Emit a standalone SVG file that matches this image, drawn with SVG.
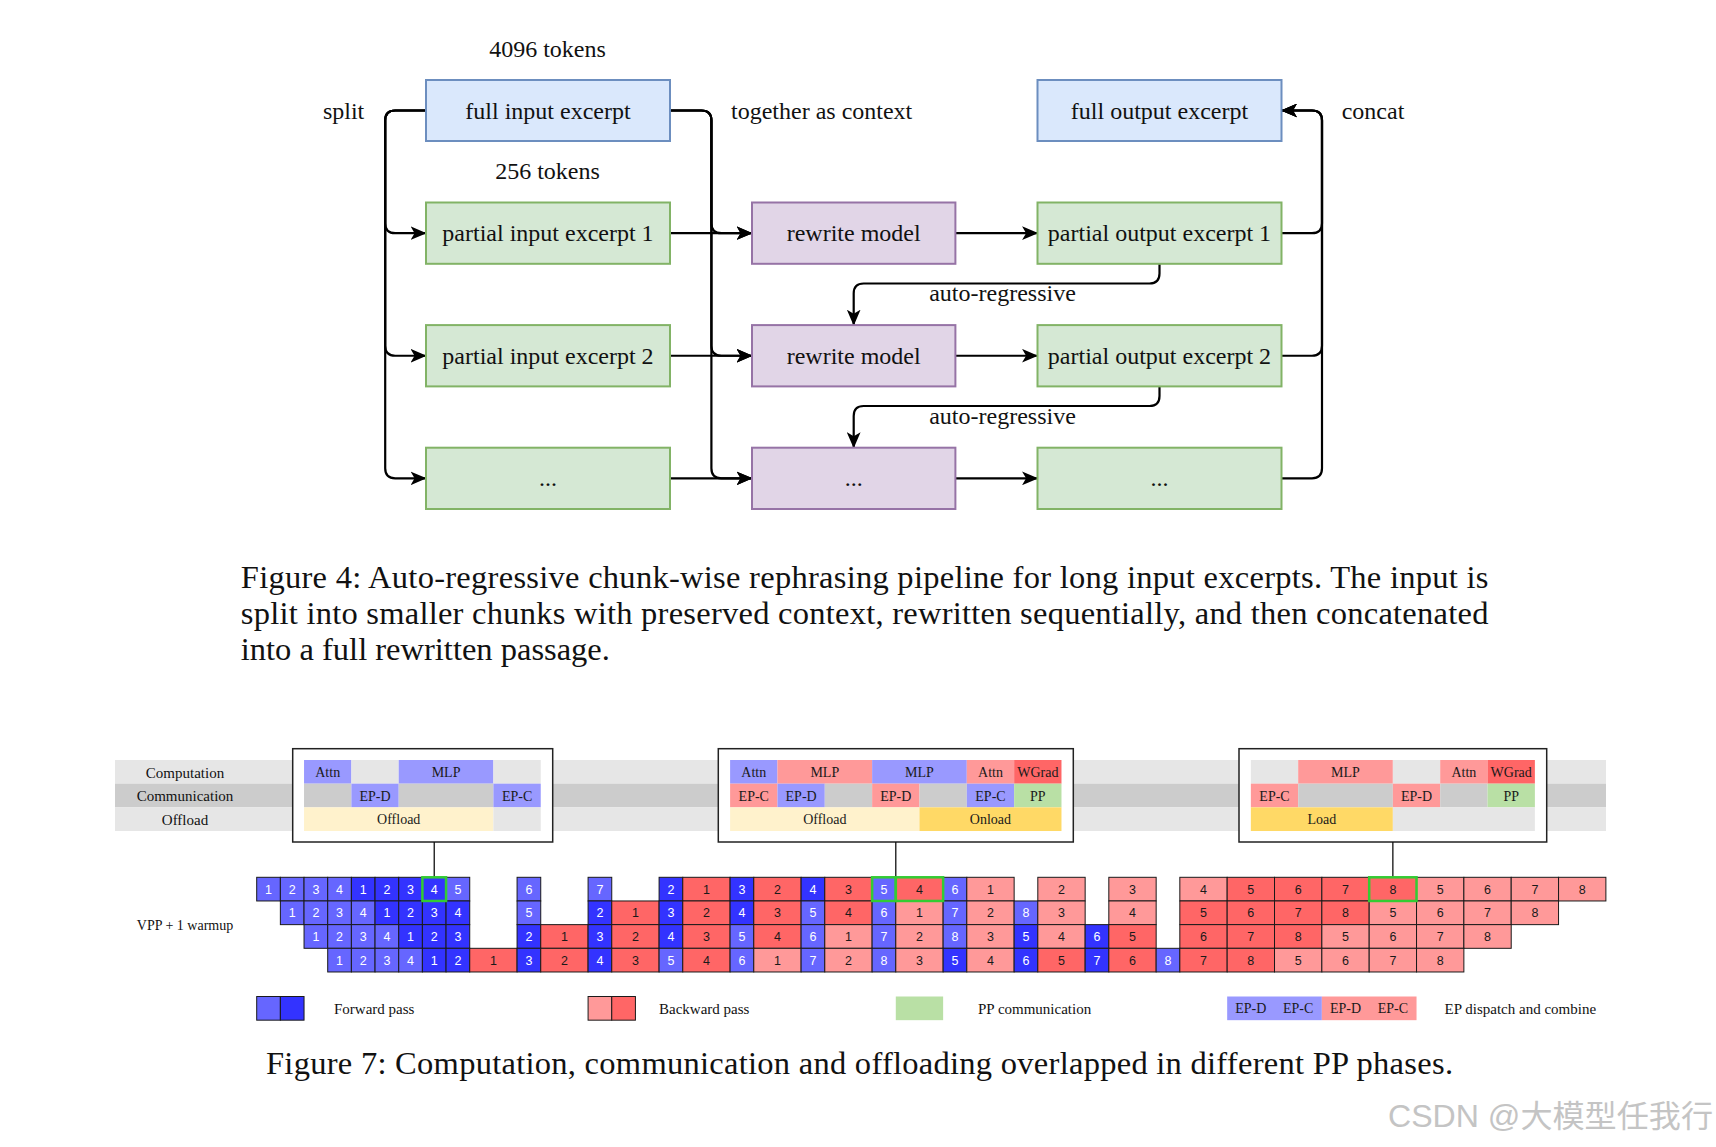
<svg xmlns="http://www.w3.org/2000/svg" width="1716" height="1147" viewBox="0 0 1716 1147">
<style>
.t{font-family:"Liberation Serif","Times New Roman",serif;fill:#111;}
.big{font-size:24px;text-anchor:middle;}
.lbl{font-size:24px;}
.cap{font-size:32.5px;}
.bx{stroke-width:2;}
.blue{fill:#dae8fc;stroke:#6c8ebf;}
.green{fill:#d5e8d4;stroke:#82b366;}
.purple{fill:#e1d5e7;stroke:#9673a6;}
.con{fill:none;stroke:#000;stroke-width:2.2;marker-end:url(#arr);}
.hd{font-family:"Liberation Serif","Times New Roman",serif;font-size:14px;fill:#1a1a1a;text-anchor:middle;}
.rl{font-family:"Liberation Serif","Times New Roman",serif;font-size:15px;fill:#111;text-anchor:middle;}
.lg{font-family:"Liberation Serif","Times New Roman",serif;font-size:15px;fill:#111;}
.L{fill:#6666ff;} .D{fill:#3333ff;} .P{fill:#ff9999;} .R{fill:#ff6666;}
.cell rect{stroke:#1a1a1a;stroke-width:1;height:23.67px;}
.cell text{font-family:"Liberation Sans",Arial,sans-serif;font-size:12.5px;text-anchor:middle;}
.w{fill:#fff;} .k{fill:#1a1a1a;}
.hb{fill:#9999ff;} .hr{fill:#ff9999;} .hw{fill:#ff6666;} .hp{fill:#b9e0a5;} .ho{fill:#fff2cc;} .hg{fill:#ffd966;} .l1{fill:#e6e6e6;} .l2{fill:#cccccc;}
.gb{fill:none;stroke:#33cc33;stroke-width:2.5;}
.box7{fill:#fff;stroke:#222;stroke-width:1.5;}
.vl{stroke:#111;stroke-width:1.3;}
</style>
<defs>
<marker id="arr" viewBox="0 0 14 12" refX="13.5" refY="6" markerUnits="userSpaceOnUse" markerWidth="16" markerHeight="14" orient="auto">
<path d="M0,0 L14,6 L0,12 L3.5,6 Z" fill="#000"/>
</marker>
</defs>
<rect width="1716" height="1147" fill="#fff"/>

<!-- ===== Figure 4 ===== -->
<g id="connectors">
<path class="con" d="M426,110.5 H395.2 Q385.2,110.5 385.2,120.5 V223.15 Q385.2,233.15 395.2,233.15 H426"/>
<path class="con" d="M426,110.5 H395.2 Q385.2,110.5 385.2,120.5 V345.75 Q385.2,355.75 395.2,355.75 H426"/>
<path class="con" d="M426,110.5 H395.2 Q385.2,110.5 385.2,120.5 V468.35 Q385.2,478.35 395.2,478.35 H426"/>
<path class="con" d="M669.8,110.5 H701.4 Q711.4,110.5 711.4,120.5 V223.15 Q711.4,233.15 721.4,233.15 H752"/>
<path class="con" d="M669.8,110.5 H701.4 Q711.4,110.5 711.4,120.5 V345.75 Q711.4,355.75 721.4,355.75 H752"/>
<path class="con" d="M669.8,110.5 H701.4 Q711.4,110.5 711.4,120.5 V468.35 Q711.4,478.35 721.4,478.35 H752"/>
<path class="con" d="M669.8,233.15 H752"/>
<path class="con" d="M669.8,355.75 H752"/>
<path class="con" d="M669.8,478.35 H752"/>
<path class="con" d="M955.4,233.15 H1037.5"/>
<path class="con" d="M955.4,355.75 H1037.5"/>
<path class="con" d="M955.4,478.35 H1037.5"/>
<path class="con" d="M1281.5,233.15 H1312 Q1322,233.15 1322,223.15 V120.5 Q1322,110.5 1312,110.5 H1281.5"/>
<path class="con" d="M1281.5,355.75 H1312 Q1322,355.75 1322,345.75 V120.5 Q1322,110.5 1312,110.5 H1281.5"/>
<path class="con" d="M1281.5,478.35 H1312 Q1322,478.35 1322,468.35 V120.5 Q1322,110.5 1312,110.5 H1281.5"/>
<path class="con" d="M1159.5,263.8 V273.5 Q1159.5,283.5 1149.5,283.5 H863.7 Q853.7,283.5 853.7,293.5 V325.1"/>
<path class="con" d="M1159.5,386.4 V396 Q1159.5,406 1149.5,406 H863.7 Q853.7,406 853.7,416 V447.7"/>
</g>

<g id="full-input"><rect class="bx blue" x="426" y="80" width="244" height="61"/><text class="t big" x="548" y="118.5">full input excerpt</text></g>
<g id="full-output"><rect class="bx blue" x="1037.5" y="80" width="244" height="61"/><text class="t big" x="1159.5" y="118.5">full output excerpt</text></g>
<g id="pin1"><rect class="bx green" x="426" y="202.5" width="244" height="61.3"/><text class="t big" x="548" y="241">partial input excerpt 1</text></g>
<g id="pin2"><rect class="bx green" x="426" y="325.1" width="244" height="61.3"/><text class="t big" x="548" y="363.6">partial input excerpt 2</text></g>
<g id="pin3"><rect class="bx green" x="426" y="447.7" width="244" height="61.3"/><text class="t big" x="548" y="486">...</text></g>
<g id="rw1"><rect class="bx purple" x="752" y="202.5" width="203.4" height="61.3"/><text class="t big" x="853.7" y="241">rewrite model</text></g>
<g id="rw2"><rect class="bx purple" x="752" y="325.1" width="203.4" height="61.3"/><text class="t big" x="853.7" y="363.6">rewrite model</text></g>
<g id="rw3"><rect class="bx purple" x="752" y="447.7" width="203.4" height="61.3"/><text class="t big" x="853.7" y="486">...</text></g>
<g id="pout1"><rect class="bx green" x="1037.5" y="202.5" width="244" height="61.3"/><text class="t big" x="1159.5" y="241">partial output excerpt 1</text></g>
<g id="pout2"><rect class="bx green" x="1037.5" y="325.1" width="244" height="61.3"/><text class="t big" x="1159.5" y="363.6">partial output excerpt 2</text></g>
<g id="pout3"><rect class="bx green" x="1037.5" y="447.7" width="244" height="61.3"/><text class="t big" x="1159.5" y="486">...</text></g>

<g id="labels4">
<text class="t big" x="547.5" y="57">4096 tokens</text>
<text class="t big" x="547.5" y="178.5">256 tokens</text>
<text class="t big" x="343.6" y="118.5">split</text>
<text class="t lbl" x="731" y="118.5">together as context</text>
<text class="t lbl" x="1341.7" y="118.5">concat</text>
<text class="t big" x="1002.5" y="301">auto-regressive</text>
<text class="t big" x="1002.5" y="423.5">auto-regressive</text>
</g>

<g id="caption4">
<text class="t cap" x="240.8" y="588" textLength="1247.6" lengthAdjust="spacing">Figure 4:  Auto-regressive chunk-wise rephrasing pipeline for long input excerpts. The input is</text>
<text class="t cap" x="240.8" y="624" textLength="1247.6" lengthAdjust="spacing">split into smaller chunks with preserved context, rewritten sequentially, and then concatenated</text>
<text class="t cap" x="240.8" y="660">into a full rewritten passage.</text>
</g>

<!-- ===== Figure 7 ===== -->
<g id="bands">
<rect class="l1" x="115" y="760" width="1491" height="23.67"/>
<rect class="l2" x="115" y="783.67" width="1491" height="23.67"/>
<rect class="l1" x="115" y="807.34" width="1491" height="23.67"/>
<text class="rl" x="185" y="777.5">Computation</text>
<text class="rl" x="185" y="801">Communication</text>
<text class="rl" x="185" y="824.5">Offload</text>
</g>

<g id="phase1">
<rect class="box7" x="292.7" y="748.7" width="260" height="93.3"/>
<rect class="hb" x="304.04" y="760" width="47.34" height="23.67"/>
<rect class="l1" x="351.38" y="760" width="47.34" height="23.67"/>
<rect class="hb" x="398.72" y="760" width="94.68" height="23.67"/>
<rect class="l1" x="493.4" y="760" width="47.34" height="23.67"/>
<rect class="l2" x="304.04" y="783.67" width="47.34" height="23.67"/>
<rect class="hb" x="351.38" y="783.67" width="47.34" height="23.67"/>
<rect class="l2" x="398.72" y="783.67" width="94.68" height="23.67"/>
<rect class="hb" x="493.4" y="783.67" width="47.34" height="23.67"/>
<rect class="ho" x="304.04" y="807.34" width="189.36" height="23.67"/>
<rect class="l1" x="493.4" y="807.34" width="47.34" height="23.67"/>
<text class="hd" x="327.71" y="776.8">Attn</text>
<text class="hd" x="446.06" y="776.8">MLP</text>
<text class="hd" x="375.05" y="800.5">EP-D</text>
<text class="hd" x="517.07" y="800.5">EP-C</text>
<text class="hd" x="398.72" y="824.2">Offload</text>
</g>

<g id="phase2">
<rect class="box7" x="718.3" y="748.7" width="355" height="93.3"/>
<rect class="hb" x="730.1" y="760" width="47.34" height="23.67"/>
<rect class="hr" x="777.44" y="760" width="94.68" height="23.67"/>
<rect class="hb" x="872.12" y="760" width="94.68" height="23.67"/>
<rect class="hr" x="966.8" y="760" width="47.34" height="23.67"/>
<rect class="hw" x="1014.14" y="760" width="47.34" height="23.67"/>
<rect class="hr" x="730.1" y="783.67" width="47.34" height="23.67"/>
<rect class="hb" x="777.44" y="783.67" width="47.34" height="23.67"/>
<rect class="l2" x="824.78" y="783.67" width="47.34" height="23.67"/>
<rect class="hr" x="872.12" y="783.67" width="47.34" height="23.67"/>
<rect class="l2" x="919.46" y="783.67" width="47.34" height="23.67"/>
<rect class="hb" x="966.8" y="783.67" width="47.34" height="23.67"/>
<rect class="hp" x="1014.14" y="783.67" width="47.34" height="23.67"/>
<rect class="ho" x="730.1" y="807.34" width="189.36" height="23.67"/>
<rect class="hg" x="919.46" y="807.34" width="142.02" height="23.67"/>
<text class="hd" x="753.77" y="776.8">Attn</text>
<text class="hd" x="824.78" y="776.8">MLP</text>
<text class="hd" x="919.46" y="776.8">MLP</text>
<text class="hd" x="990.47" y="776.8">Attn</text>
<text class="hd" x="1037.81" y="776.8">WGrad</text>
<text class="hd" x="753.77" y="800.5">EP-C</text>
<text class="hd" x="801.11" y="800.5">EP-D</text>
<text class="hd" x="895.79" y="800.5">EP-D</text>
<text class="hd" x="990.47" y="800.5">EP-C</text>
<text class="hd" x="1037.81" y="800.5">PP</text>
<text class="hd" x="824.78" y="824.2">Offload</text>
<text class="hd" x="990.47" y="824.2">Onload</text>
</g>

<g id="phase3">
<rect class="box7" x="1239" y="748.7" width="307.7" height="93.3"/>
<rect class="l1" x="1250.84" y="760" width="47.34" height="23.67"/>
<rect class="hr" x="1298.18" y="760" width="94.68" height="23.67"/>
<rect class="l1" x="1392.86" y="760" width="47.34" height="23.67"/>
<rect class="hr" x="1440.2" y="760" width="47.34" height="23.67"/>
<rect class="hw" x="1487.54" y="760" width="47.34" height="23.67"/>
<rect class="hr" x="1250.84" y="783.67" width="47.34" height="23.67"/>
<rect class="l2" x="1298.18" y="783.67" width="94.68" height="23.67"/>
<rect class="hr" x="1392.86" y="783.67" width="47.34" height="23.67"/>
<rect class="l2" x="1440.2" y="783.67" width="47.34" height="23.67"/>
<rect class="hp" x="1487.54" y="783.67" width="47.34" height="23.67"/>
<rect class="hg" x="1250.84" y="807.34" width="142.02" height="23.67"/>
<rect class="l1" x="1392.86" y="807.34" width="142.02" height="23.67"/>
<text class="hd" x="1345.52" y="776.8">MLP</text>
<text class="hd" x="1463.87" y="776.8">Attn</text>
<text class="hd" x="1511.21" y="776.8">WGrad</text>
<text class="hd" x="1274.51" y="800.5">EP-C</text>
<text class="hd" x="1416.53" y="800.5">EP-D</text>
<text class="hd" x="1511.21" y="800.5">PP</text>
<text class="hd" x="1321.85" y="824.2">Load</text>
</g>

<g id="phase-links">
<line class="vl" x1="434.23" y1="842" x2="434.23" y2="877.3"/>
<line class="vl" x1="895.79" y1="842" x2="895.79" y2="877.3"/>
<line class="vl" x1="1392.86" y1="842" x2="1392.86" y2="877.3"/>
</g>

<text class="rl" x="185" y="930" style="font-size:14px">VPP + 1 warmup</text>

<g id="row1" class="cell" transform="translate(0,877.3)">
<rect class="L" x="256.70" y="0" width="23.67"/><text class="w" x="268.54" y="16.3">1</text>
<rect class="L" x="280.37" y="0" width="23.67"/><text class="w" x="292.21" y="16.3">2</text>
<rect class="L" x="304.04" y="0" width="23.67"/><text class="w" x="315.88" y="16.3">3</text>
<rect class="L" x="327.71" y="0" width="23.67"/><text class="w" x="339.55" y="16.3">4</text>
<rect class="D" x="351.38" y="0" width="23.67"/><text class="w" x="363.22" y="16.3">1</text>
<rect class="D" x="375.05" y="0" width="23.67"/><text class="w" x="386.89" y="16.3">2</text>
<rect class="D" x="398.72" y="0" width="23.67"/><text class="w" x="410.56" y="16.3">3</text>
<rect class="D" x="422.39" y="0" width="23.67"/><text class="w" x="434.23" y="16.3">4</text>
<rect class="L" x="446.06" y="0" width="23.67"/><text class="w" x="457.90" y="16.3">5</text>
<rect class="L" x="517.07" y="0" width="23.67"/><text class="w" x="528.91" y="16.3">6</text>
<rect class="L" x="588.08" y="0" width="23.67"/><text class="w" x="599.92" y="16.3">7</text>
<rect class="D" x="659.09" y="0" width="23.67"/><text class="w" x="670.93" y="16.3">2</text>
<rect class="R" x="682.76" y="0" width="47.34"/><text class="k" x="706.43" y="16.3">1</text>
<rect class="D" x="730.10" y="0" width="23.67"/><text class="w" x="741.94" y="16.3">3</text>
<rect class="R" x="753.77" y="0" width="47.34"/><text class="k" x="777.44" y="16.3">2</text>
<rect class="D" x="801.11" y="0" width="23.67"/><text class="w" x="812.95" y="16.3">4</text>
<rect class="R" x="824.78" y="0" width="47.34"/><text class="k" x="848.45" y="16.3">3</text>
<rect class="L" x="872.12" y="0" width="23.67"/><text class="w" x="883.96" y="16.3">5</text>
<rect class="R" x="895.79" y="0" width="47.34"/><text class="k" x="919.46" y="16.3">4</text>
<rect class="L" x="943.13" y="0" width="23.67"/><text class="w" x="954.97" y="16.3">6</text>
<rect class="P" x="966.80" y="0" width="47.34"/><text class="k" x="990.47" y="16.3">1</text>
<rect class="P" x="1037.81" y="0" width="47.34"/><text class="k" x="1061.48" y="16.3">2</text>
<rect class="P" x="1108.82" y="0" width="47.34"/><text class="k" x="1132.49" y="16.3">3</text>
<rect class="P" x="1179.83" y="0" width="47.34"/><text class="k" x="1203.50" y="16.3">4</text>
<rect class="R" x="1227.17" y="0" width="47.34"/><text class="k" x="1250.84" y="16.3">5</text>
<rect class="R" x="1274.51" y="0" width="47.34"/><text class="k" x="1298.18" y="16.3">6</text>
<rect class="R" x="1321.85" y="0" width="47.34"/><text class="k" x="1345.52" y="16.3">7</text>
<rect class="R" x="1369.19" y="0" width="47.34"/><text class="k" x="1392.86" y="16.3">8</text>
<rect class="P" x="1416.53" y="0" width="47.34"/><text class="k" x="1440.20" y="16.3">5</text>
<rect class="P" x="1463.87" y="0" width="47.34"/><text class="k" x="1487.54" y="16.3">6</text>
<rect class="P" x="1511.21" y="0" width="47.34"/><text class="k" x="1534.88" y="16.3">7</text>
<rect class="P" x="1558.55" y="0" width="47.34"/><text class="k" x="1582.22" y="16.3">8</text>
</g>

<g id="row2" class="cell" transform="translate(0,900.97)">
<rect class="L" x="280.37" y="0" width="23.67"/><text class="w" x="292.21" y="16.3">1</text>
<rect class="L" x="304.04" y="0" width="23.67"/><text class="w" x="315.88" y="16.3">2</text>
<rect class="L" x="327.71" y="0" width="23.67"/><text class="w" x="339.55" y="16.3">3</text>
<rect class="L" x="351.38" y="0" width="23.67"/><text class="w" x="363.22" y="16.3">4</text>
<rect class="D" x="375.05" y="0" width="23.67"/><text class="w" x="386.89" y="16.3">1</text>
<rect class="D" x="398.72" y="0" width="23.67"/><text class="w" x="410.56" y="16.3">2</text>
<rect class="D" x="422.39" y="0" width="23.67"/><text class="w" x="434.23" y="16.3">3</text>
<rect class="D" x="446.06" y="0" width="23.67"/><text class="w" x="457.90" y="16.3">4</text>
<rect class="L" x="517.07" y="0" width="23.67"/><text class="w" x="528.91" y="16.3">5</text>
<rect class="D" x="588.08" y="0" width="23.67"/><text class="w" x="599.92" y="16.3">2</text>
<rect class="R" x="611.75" y="0" width="47.34"/><text class="k" x="635.42" y="16.3">1</text>
<rect class="D" x="659.09" y="0" width="23.67"/><text class="w" x="670.93" y="16.3">3</text>
<rect class="R" x="682.76" y="0" width="47.34"/><text class="k" x="706.43" y="16.3">2</text>
<rect class="D" x="730.10" y="0" width="23.67"/><text class="w" x="741.94" y="16.3">4</text>
<rect class="R" x="753.77" y="0" width="47.34"/><text class="k" x="777.44" y="16.3">3</text>
<rect class="L" x="801.11" y="0" width="23.67"/><text class="w" x="812.95" y="16.3">5</text>
<rect class="R" x="824.78" y="0" width="47.34"/><text class="k" x="848.45" y="16.3">4</text>
<rect class="L" x="872.12" y="0" width="23.67"/><text class="w" x="883.96" y="16.3">6</text>
<rect class="P" x="895.79" y="0" width="47.34"/><text class="k" x="919.46" y="16.3">1</text>
<rect class="L" x="943.13" y="0" width="23.67"/><text class="w" x="954.97" y="16.3">7</text>
<rect class="P" x="966.80" y="0" width="47.34"/><text class="k" x="990.47" y="16.3">2</text>
<rect class="L" x="1014.14" y="0" width="23.67"/><text class="w" x="1025.98" y="16.3">8</text>
<rect class="P" x="1037.81" y="0" width="47.34"/><text class="k" x="1061.48" y="16.3">3</text>
<rect class="P" x="1108.82" y="0" width="47.34"/><text class="k" x="1132.49" y="16.3">4</text>
<rect class="R" x="1179.83" y="0" width="47.34"/><text class="k" x="1203.50" y="16.3">5</text>
<rect class="R" x="1227.17" y="0" width="47.34"/><text class="k" x="1250.84" y="16.3">6</text>
<rect class="R" x="1274.51" y="0" width="47.34"/><text class="k" x="1298.18" y="16.3">7</text>
<rect class="R" x="1321.85" y="0" width="47.34"/><text class="k" x="1345.52" y="16.3">8</text>
<rect class="P" x="1369.19" y="0" width="47.34"/><text class="k" x="1392.86" y="16.3">5</text>
<rect class="P" x="1416.53" y="0" width="47.34"/><text class="k" x="1440.20" y="16.3">6</text>
<rect class="P" x="1463.87" y="0" width="47.34"/><text class="k" x="1487.54" y="16.3">7</text>
<rect class="P" x="1511.21" y="0" width="47.34"/><text class="k" x="1534.88" y="16.3">8</text>
</g>

<g id="row3" class="cell" transform="translate(0,924.64)">
<rect class="L" x="304.04" y="0" width="23.67"/><text class="w" x="315.88" y="16.3">1</text>
<rect class="L" x="327.71" y="0" width="23.67"/><text class="w" x="339.55" y="16.3">2</text>
<rect class="L" x="351.38" y="0" width="23.67"/><text class="w" x="363.22" y="16.3">3</text>
<rect class="L" x="375.05" y="0" width="23.67"/><text class="w" x="386.89" y="16.3">4</text>
<rect class="D" x="398.72" y="0" width="23.67"/><text class="w" x="410.56" y="16.3">1</text>
<rect class="D" x="422.39" y="0" width="23.67"/><text class="w" x="434.23" y="16.3">2</text>
<rect class="D" x="446.06" y="0" width="23.67"/><text class="w" x="457.90" y="16.3">3</text>
<rect class="D" x="517.07" y="0" width="23.67"/><text class="w" x="528.91" y="16.3">2</text>
<rect class="R" x="540.74" y="0" width="47.34"/><text class="k" x="564.41" y="16.3">1</text>
<rect class="D" x="588.08" y="0" width="23.67"/><text class="w" x="599.92" y="16.3">3</text>
<rect class="R" x="611.75" y="0" width="47.34"/><text class="k" x="635.42" y="16.3">2</text>
<rect class="D" x="659.09" y="0" width="23.67"/><text class="w" x="670.93" y="16.3">4</text>
<rect class="R" x="682.76" y="0" width="47.34"/><text class="k" x="706.43" y="16.3">3</text>
<rect class="L" x="730.10" y="0" width="23.67"/><text class="w" x="741.94" y="16.3">5</text>
<rect class="R" x="753.77" y="0" width="47.34"/><text class="k" x="777.44" y="16.3">4</text>
<rect class="L" x="801.11" y="0" width="23.67"/><text class="w" x="812.95" y="16.3">6</text>
<rect class="P" x="824.78" y="0" width="47.34"/><text class="k" x="848.45" y="16.3">1</text>
<rect class="L" x="872.12" y="0" width="23.67"/><text class="w" x="883.96" y="16.3">7</text>
<rect class="P" x="895.79" y="0" width="47.34"/><text class="k" x="919.46" y="16.3">2</text>
<rect class="L" x="943.13" y="0" width="23.67"/><text class="w" x="954.97" y="16.3">8</text>
<rect class="P" x="966.80" y="0" width="47.34"/><text class="k" x="990.47" y="16.3">3</text>
<rect class="D" x="1014.14" y="0" width="23.67"/><text class="w" x="1025.98" y="16.3">5</text>
<rect class="P" x="1037.81" y="0" width="47.34"/><text class="k" x="1061.48" y="16.3">4</text>
<rect class="D" x="1085.15" y="0" width="23.67"/><text class="w" x="1096.99" y="16.3">6</text>
<rect class="R" x="1108.82" y="0" width="47.34"/><text class="k" x="1132.49" y="16.3">5</text>
<rect class="R" x="1179.83" y="0" width="47.34"/><text class="k" x="1203.50" y="16.3">6</text>
<rect class="R" x="1227.17" y="0" width="47.34"/><text class="k" x="1250.84" y="16.3">7</text>
<rect class="R" x="1274.51" y="0" width="47.34"/><text class="k" x="1298.18" y="16.3">8</text>
<rect class="P" x="1321.85" y="0" width="47.34"/><text class="k" x="1345.52" y="16.3">5</text>
<rect class="P" x="1369.19" y="0" width="47.34"/><text class="k" x="1392.86" y="16.3">6</text>
<rect class="P" x="1416.53" y="0" width="47.34"/><text class="k" x="1440.20" y="16.3">7</text>
<rect class="P" x="1463.87" y="0" width="47.34"/><text class="k" x="1487.54" y="16.3">8</text>
</g>

<g id="row4" class="cell" transform="translate(0,948.31)">
<rect class="L" x="327.71" y="0" width="23.67"/><text class="w" x="339.55" y="16.3">1</text>
<rect class="L" x="351.38" y="0" width="23.67"/><text class="w" x="363.22" y="16.3">2</text>
<rect class="L" x="375.05" y="0" width="23.67"/><text class="w" x="386.89" y="16.3">3</text>
<rect class="L" x="398.72" y="0" width="23.67"/><text class="w" x="410.56" y="16.3">4</text>
<rect class="D" x="422.39" y="0" width="23.67"/><text class="w" x="434.23" y="16.3">1</text>
<rect class="D" x="446.06" y="0" width="23.67"/><text class="w" x="457.90" y="16.3">2</text>
<rect class="R" x="469.73" y="0" width="47.34"/><text class="k" x="493.40" y="16.3">1</text>
<rect class="D" x="517.07" y="0" width="23.67"/><text class="w" x="528.91" y="16.3">3</text>
<rect class="R" x="540.74" y="0" width="47.34"/><text class="k" x="564.41" y="16.3">2</text>
<rect class="D" x="588.08" y="0" width="23.67"/><text class="w" x="599.92" y="16.3">4</text>
<rect class="R" x="611.75" y="0" width="47.34"/><text class="k" x="635.42" y="16.3">3</text>
<rect class="L" x="659.09" y="0" width="23.67"/><text class="w" x="670.93" y="16.3">5</text>
<rect class="R" x="682.76" y="0" width="47.34"/><text class="k" x="706.43" y="16.3">4</text>
<rect class="L" x="730.10" y="0" width="23.67"/><text class="w" x="741.94" y="16.3">6</text>
<rect class="P" x="753.77" y="0" width="47.34"/><text class="k" x="777.44" y="16.3">1</text>
<rect class="L" x="801.11" y="0" width="23.67"/><text class="w" x="812.95" y="16.3">7</text>
<rect class="P" x="824.78" y="0" width="47.34"/><text class="k" x="848.45" y="16.3">2</text>
<rect class="L" x="872.12" y="0" width="23.67"/><text class="w" x="883.96" y="16.3">8</text>
<rect class="P" x="895.79" y="0" width="47.34"/><text class="k" x="919.46" y="16.3">3</text>
<rect class="D" x="943.13" y="0" width="23.67"/><text class="w" x="954.97" y="16.3">5</text>
<rect class="P" x="966.80" y="0" width="47.34"/><text class="k" x="990.47" y="16.3">4</text>
<rect class="D" x="1014.14" y="0" width="23.67"/><text class="w" x="1025.98" y="16.3">6</text>
<rect class="R" x="1037.81" y="0" width="47.34"/><text class="k" x="1061.48" y="16.3">5</text>
<rect class="D" x="1085.15" y="0" width="23.67"/><text class="w" x="1096.99" y="16.3">7</text>
<rect class="R" x="1108.82" y="0" width="47.34"/><text class="k" x="1132.49" y="16.3">6</text>
<rect class="L" x="1156.16" y="0" width="23.67"/><text class="w" x="1168.00" y="16.3">8</text>
<rect class="R" x="1179.83" y="0" width="47.34"/><text class="k" x="1203.50" y="16.3">7</text>
<rect class="R" x="1227.17" y="0" width="47.34"/><text class="k" x="1250.84" y="16.3">8</text>
<rect class="P" x="1274.51" y="0" width="47.34"/><text class="k" x="1298.18" y="16.3">5</text>
<rect class="P" x="1321.85" y="0" width="47.34"/><text class="k" x="1345.52" y="16.3">6</text>
<rect class="P" x="1369.19" y="0" width="47.34"/><text class="k" x="1392.86" y="16.3">7</text>
<rect class="P" x="1416.53" y="0" width="47.34"/><text class="k" x="1440.20" y="16.3">8</text>
</g>

<g id="highlights">
<rect class="gb" x="422.39" y="877.3" width="23.67" height="23.67"/>
<rect class="gb" x="872.12" y="877.3" width="23.67" height="23.67"/>
<rect class="gb" x="895.79" y="877.3" width="47.34" height="23.67"/>
<rect class="gb" x="1369.19" y="877.3" width="47.34" height="23.67"/>
</g>

<g id="legend">
<g class="cell">
<rect class="L" x="256.70" y="996.5" width="23.67"/>
<rect class="D" x="280.37" y="996.5" width="23.67"/>
<rect class="P" x="588.08" y="996.5" width="23.67"/>
<rect class="R" x="611.75" y="996.5" width="23.67"/>
</g>
<text class="lg" x="334" y="1013.5">Forward pass</text>
<text class="lg" x="659" y="1013.5">Backward pass</text>
<rect class="hp" x="895.79" y="996.5" width="47.34" height="23.67"/>
<text class="lg" x="978" y="1013.5">PP communication</text>
<rect class="hb" x="1227.17" y="996.5" width="94.68" height="23.67"/>
<rect class="hr" x="1321.85" y="996.5" width="94.68" height="23.67"/>
<text class="hd" x="1250.84" y="1013">EP-D</text>
<text class="hd" x="1298.18" y="1013">EP-C</text>
<text class="hd" x="1345.52" y="1013">EP-D</text>
<text class="hd" x="1392.86" y="1013">EP-C</text>
<text class="lg" x="1444.6" y="1013.5">EP dispatch and combine</text>
</g>

<text class="t cap" x="266" y="1074" textLength="1187" lengthAdjust="spacing">Figure 7: Computation, communication and offloading overlapped in different PP phases.</text>

<text x="1388" y="1127" textLength="325" lengthAdjust="spacingAndGlyphs" style="font-family:'Liberation Sans','Noto Sans CJK SC',sans-serif;font-size:31px;fill:#c4c4c4">CSDN @大模型任我行</text>
</svg>
